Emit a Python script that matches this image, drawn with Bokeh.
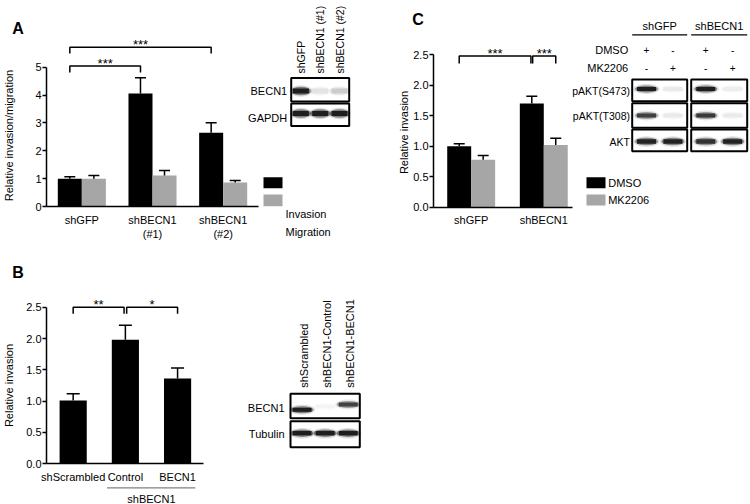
import numpy as np
from bokeh.plotting import figure
from bokeh.models import Range1d, FixedTicker, PrintfTickFormatter
from bokeh.layouts import column, row
from bokeh.embed import file_html
from bokeh.resources import INLINE
from bokeh.core.properties import value

FONT = "Liberation Sans"
BLACK = "#000000"
GREY = "#a6a6a6"

# ---------------- chart data ----------------
a_groups = ["shGFP", "shBECN1\n(#1)", "shBECN1\n(#2)"]
a_series = ["Invasion", "Migration"]
a_invasion = [1.00, 4.06, 2.65]
a_invasion_err = [0.07, 0.56, 0.36]
a_migration = [1.00, 1.11, 0.86]
a_migration_err = [0.11, 0.18, 0.07]
a_yticks = [0, 1, 2, 3, 4, 5]
a_ylabel = "Relative invasion/migration"
a_sig_text = ["***", "***"]
a_sig_pairs = [(0, 1), (0, 2)]
a_sig_level = [5.04, 5.72]

b_groups = ["shScrambled", "Control", "BECN1"]
b_group_title = "shBECN1"
b_invasion = [1.01, 1.98, 1.36]
b_invasion_err = [0.11, 0.23, 0.17]
b_yticks = [0, 0.5, 1.0, 1.5, 2.0, 2.5]
b_ylabel = "Relative invasion"
b_sig_text = ["**", "*"]
b_sig_level = [2.50, 2.50]

c_groups = ["shGFP", "shBECN1"]
c_series = ["DMSO", "MK2206"]
c_dmso = [1.00, 1.70]
c_dmso_err = [0.04, 0.12]
c_mk2206 = [0.78, 1.02]
c_mk2206_err = [0.07, 0.11]
c_yticks = [0, 0.5, 1.0, 1.5, 2.0, 2.5]
c_ylabel = "Relative invasion"
c_sig_text = ["***", "***"]
c_sig_level = [2.48, 2.48]

# ---------------- blot data (band intensities) ----------------
a_blot_lanes = ["shGFP", "shBECN1 (#1)", "shBECN1 (#2)"]
a_blot_rows = ["BECN1", "GAPDH"]
a_blot_becn1 = [1.0, 0.08, 0.15]
a_blot_gapdh = [1.0, 1.0, 1.0]

b_blot_lanes = ["shScrambled", "shBECN1-Control", "shBECN1-BECN1"]
b_blot_rows = ["BECN1", "Tubulin"]
b_blot_becn1 = [1.0, 0.03, 0.75]
b_blot_tubulin = [1.0, 1.0, 1.0]

c_blot_groups = ["shGFP", "shBECN1"]
c_blot_dmso = ["+", "-", "+", "-"]
c_blot_mk2206 = ["-", "+", "-", "+"]
c_blot_rows = ["pAKT(S473)", "pAKT(T308)", "AKT"]
c_blot_s473 = [1.0, 0.06, 1.0, 0.05]
c_blot_t308 = [0.75, 0.06, 0.8, 0.06]
c_blot_akt = [0.95, 0.95, 0.85, 0.95]

PX = dict(x_range_name="px", y_range_name="py")


def make_panel(fig_left, fig_top, width, height, axis_x_px, axis_y_px, x_axis_val, x_ppu, y_ppu):
    """Frame covers the whole figure; axes are pinned at (x_axis_val, 0).
    Extra ranges 'px'/'py' are page-pixel coordinates for the blot drawings."""
    xr = Range1d(x_axis_val - (axis_x_px - fig_left) / x_ppu,
                 x_axis_val + (fig_left + width - axis_x_px) / x_ppu)
    yr = Range1d(-(fig_top + height - axis_y_px) / y_ppu, (axis_y_px - fig_top) / y_ppu)
    p = figure(width=width, height=height, output_backend="svg", toolbar_location=None,
               x_range=xr, y_range=yr)
    p.min_border = 0
    p.min_border_left = 0
    p.min_border_right = 0
    p.min_border_top = 0
    p.min_border_bottom = 0
    p.extra_x_ranges = {"px": Range1d(fig_left, fig_left + width)}
    p.extra_y_ranges = {"py": Range1d(fig_top + height, fig_top)}
    p.outline_line_color = None
    p.xgrid.visible = False
    p.ygrid.visible = False
    p.background_fill_color = "white"
    p.border_fill_color = "white"
    p.xaxis.fixed_location = 0
    p.yaxis.fixed_location = x_axis_val
    return p


def style_axes(p, groups, xbounds, yticks, ybounds, yfmt=None):
    xa, ya = p.xaxis[0], p.yaxis[0]
    for ax in (xa, ya):
        ax.axis_line_color = "black"
        ax.axis_line_width = 1.5
        ax.major_label_text_font = FONT
        ax.major_label_text_font_size = "11px"
        ax.major_label_text_color = "black"
        ax.minor_tick_line_color = None
    xa.ticker = FixedTicker(ticks=list(range(1, len(groups) + 1)))
    xa.major_label_overrides = {i + 1: g for i, g in enumerate(groups)}
    xa.major_tick_line_color = None
    xa.major_tick_in = 0
    xa.major_tick_out = 0
    xa.major_label_standoff = 7
    xa.bounds = xbounds
    ya.ticker = FixedTicker(ticks=yticks)
    if yfmt:
        ya.formatter = PrintfTickFormatter(format=yfmt)
    ya.major_tick_in = 0
    ya.major_tick_out = 4
    ya.major_tick_line_width = 1.5
    ya.major_tick_line_color = "black"
    ya.major_label_standoff = 1
    ya.bounds = ybounds


def bars(p, xs, tops, errs, width, color, cap):
    xs = np.asarray(xs, float)
    tops = np.asarray(tops, float)
    errs = np.asarray(errs, float)
    p.vbar(x=xs, top=tops, bottom=0, width=width, fill_color=color, line_color=None)
    p.segment(x0=xs, y0=tops, x1=xs, y1=tops + errs, line_color="black", line_width=1.5)
    p.segment(x0=xs - cap / 2, y0=tops + errs, x1=xs + cap / 2, y1=tops + errs,
              line_color="black", line_width=1.5)


def bracket(p, xa, xb, level, drop, text):
    p.multi_line(xs=[[xa, xa, xb, xb]], ys=[[level - drop, level, level, level - drop]],
                 line_color="black", line_width=1.5)
    p.text(x=[(xa + xb) / 2], y=[level], text=[text], text_font=value(FONT),
           text_font_size="13px", text_align="center", text_baseline="alphabetic",
           y_offset=-2.6, text_color="black")


def box(p, x0, x1, y0, y1, lw=2):
    p.quad(left=[x0], right=[x1], top=[y0], bottom=[y1], fill_color="white",
           line_color="black", line_width=lw, **PX)


def bands(p, xs, ys, intens, w, h):
    intens = np.asarray(intens, float)
    xs, ys = list(xs), list(ys)
    p.ellipse(x=xs, y=ys, width=w + 5, height=h + 5, fill_color="#101010",
              fill_alpha=0.14 * intens, line_color=None, **PX)
    p.ellipse(x=xs, y=ys, width=w + 2, height=h + 2, fill_color="#101010",
              fill_alpha=0.45 * intens, line_color=None, **PX)
    p.rect(x=xs, y=ys, width=w - 2, height=h * 0.8, fill_color="#101010",
           fill_alpha=0.88 * intens, line_color=None, **PX)


def txt(p, xs, ys, texts, size="11px", align="left", baseline="middle", angle=0.0,
        style="normal", color="black"):
    p.text(x=list(xs), y=list(ys), text=list(texts), text_font=value(FONT), text_font_size=size,
           text_align=align, text_baseline=baseline, angle=angle, text_color=color,
           text_font_style=style, **PX)


# ======================= Panel A =======================
a_xppu, a_yppu = 70.67, 27.86
pa = make_panel(0, 0, 382, 250, 46, 206, 0.5, a_xppu, a_yppu)
style_axes(pa, a_groups, (0.5, 3.5), a_yticks, (0, 5))
ax_pos = np.arange(1, len(a_groups) + 1)
a_bw, a_off = 0.34, 0.17
bars(pa, ax_pos - a_off, a_invasion, a_invasion_err, a_bw, BLACK, 11 / a_xppu)
bars(pa, ax_pos + a_off, a_migration, a_migration_err, a_bw, GREY, 11 / a_xppu)
for t, (i, j), lev in zip(a_sig_text, a_sig_pairs, a_sig_level):
    bracket(pa, ax_pos[i] - a_off, ax_pos[j] - a_off, lev, 6.3 / a_yppu, t)
txt(pa, [17.5], [27.5], ["A"], size="16px", align="center", style="bold")
txt(pa, [8.5], [135], [a_ylabel], align="center", angle=np.pi / 2)

# blot A
ab_x0, ab_x1 = 290.7, 348.7
ab_rows_y = [(77.5, 101.0), (103.0, 125.5)]
a_lw = (ab_x1 - ab_x0) / len(a_blot_lanes)
a_lane_x = [ab_x0 + a_lw * (k + 0.5) for k in range(len(a_blot_lanes))]
for (y0, y1) in ab_rows_y:
    box(pa, ab_x0, ab_x1, y0, y1)
bands(pa, a_lane_x, [90.5] * 3, a_blot_becn1, 18, 6.5)
bands(pa, a_lane_x, [113.0] * 3, a_blot_gapdh, 18, 6.5)
txt(pa, a_lane_x, [73.0] * 3, a_blot_lanes, size="10.5px", align="left", angle=np.pi / 2)
txt(pa, [286.7, 286.7], [90.7, 117.0], a_blot_rows, align="right")
# legend A (swatches above, labels below as in the original)
pa.quad(left=[263, 263], right=[282, 282], top=[176.7, 194.0], bottom=[187.7, 205.7],
        fill_color=[BLACK, GREY], line_color=None, **PX)
txt(pa, [285, 285], [213, 231], a_series)

# ======================= Panel C =======================
c_xppu, c_yppu = 72.6, 60.96
pc = make_panel(382, 0, 368, 250, 433, 206.7, 0.481, c_xppu, c_yppu)
style_axes(pc, c_groups, (0.481, 2.396), c_yticks, (0, 2.5), "%.1f")
cx_pos = np.arange(1, len(c_groups) + 1)
c_bw, c_off = 0.33, 0.165
bars(pc, cx_pos - c_off, c_dmso, c_dmso_err, c_bw, BLACK, 11 / c_xppu)
bars(pc, cx_pos + c_off, c_mk2206, c_mk2206_err, c_bw, GREY, 11 / c_xppu)
gap = 0.012
bracket(pc, cx_pos[0] - c_off, cx_pos[1] - c_off - gap, c_sig_level[0], 7.6 / c_yppu, c_sig_text[0])
bracket(pc, cx_pos[1] - c_off + gap, cx_pos[1] + c_off, c_sig_level[1], 7.6 / c_yppu, c_sig_text[1])
txt(pc, [417.5], [19], ["C"], size="16px", align="center", style="bold")
txt(pc, [403], [132], [c_ylabel], align="center", angle=np.pi / 2)
# legend C
pc.quad(left=[586, 586], right=[605, 605], top=[176.7, 194.0], bottom=[187.7, 205.0],
        fill_color=[BLACK, GREY], line_color=None, **PX)
txt(pc, [607.7, 607.7], [182.0, 199.5], c_series)
# blot C
c_boxes_x = [(631.7, 686.7), (690.7, 746.7)]
c_rows_y = [(79.0, 100.7), (102.7, 127.3), (129.0, 150.7)]
c_lane_x = []
for (x0, x1) in c_boxes_x:
    w = x1 - x0
    c_lane_x += [x0 + 0.26 * w, x0 + 0.74 * w]
for (x0, x1), g in zip(c_boxes_x, c_blot_groups):
    pc.segment(x0=[x0], y0=[34.3], x1=[x1], y1=[34.3], line_color="black", line_width=1.3, **PX)
    txt(pc, [(x0 + x1) / 2], [25.0], [g], align="center")
    for (y0, y1) in c_rows_y:
        box(pc, x0, x1, y0, y1)
txt(pc, [627.7, 627.7], [49.3, 67.7], c_series, align="right")
txt(pc, c_lane_x, [49.3] * 4, c_blot_dmso, size="10px", align="center")
txt(pc, c_lane_x, [67.7] * 4, c_blot_mk2206, size="10px", align="center")
bands(pc, c_lane_x, [88.5] * 4, c_blot_s473, 21, 5)
bands(pc, c_lane_x, [115.0] * 4, c_blot_t308, 21, 5)
bands(pc, c_lane_x, [141.0] * 4, c_blot_akt, 21, 5.5)
txt(pc, [629.5] * 3, [90.0, 115.0, 141.7], c_blot_rows, size="10.5px", align="right")

# ======================= Panel B =======================
b_xppu, b_yppu = 52.2, 62.64
pb = make_panel(0, 250, 382, 254, 46, 463.3, 0.489, b_xppu, b_yppu)
style_axes(pb, b_groups, (0.489, 3.497), b_yticks, (0, 2.5), "%.1f")
bx_pos = np.arange(1, len(b_groups) + 1)
bars(pb, bx_pos, b_invasion, b_invasion_err, 0.52, BLACK, 13 / b_xppu)
bgap = 0.025
bracket(pb, bx_pos[0], bx_pos[1] - bgap, b_sig_level[0], 6.6 / b_yppu, b_sig_text[0])
bracket(pb, bx_pos[1] + bgap, bx_pos[2], b_sig_level[1], 6.6 / b_yppu, b_sig_text[1])
txt(pb, [17.5], [272], ["B"], size="16px", align="center", style="bold")
txt(pb, [8.5], [385], [b_ylabel], align="center", angle=np.pi / 2)
# group line under the axis labels
pb.segment(x0=[bx_pos[1] - 0.35], y0=[487.3], x1=[bx_pos[2] + 0.34], y1=[487.3],
           line_color="#808080", line_width=1.2, y_range_name="py")
pb.text(x=[(bx_pos[1] + bx_pos[2]) / 2], y=[498.3], text=[b_group_title], text_font=value(FONT),
        text_font_size="11px", text_align="center", text_baseline="middle", text_color="black",
        y_range_name="py")
# blot B
bb_x0, bb_x1 = 290.0, 359.3
bb_rows_y = [(393.3, 417.7), (420.7, 446.7)]
b_lw = (bb_x1 - bb_x0) / len(b_blot_lanes)
b_lane_x = [bb_x0 + b_lw * (k + 0.5) for k in range(len(b_blot_lanes))]
for (y0, y1) in bb_rows_y:
    box(pb, bb_x0, bb_x1, y0, y1)
bands(pb, b_lane_x, [409.3, 406.0, 404.0], b_blot_becn1, 21, 5)
bands(pb, b_lane_x, [432.7] * 3, b_blot_tubulin, 21, 5.5)
txt(pb, [x + 1.5 for x in b_lane_x], [387.3] * 3, b_blot_lanes, align="left", angle=np.pi / 2)
txt(pb, [284, 284], [407.3, 433.0], b_blot_rows, align="right")

layout = column(row(pa, pc), pb)
open("out.html", "w").write(file_html(layout, INLINE))
